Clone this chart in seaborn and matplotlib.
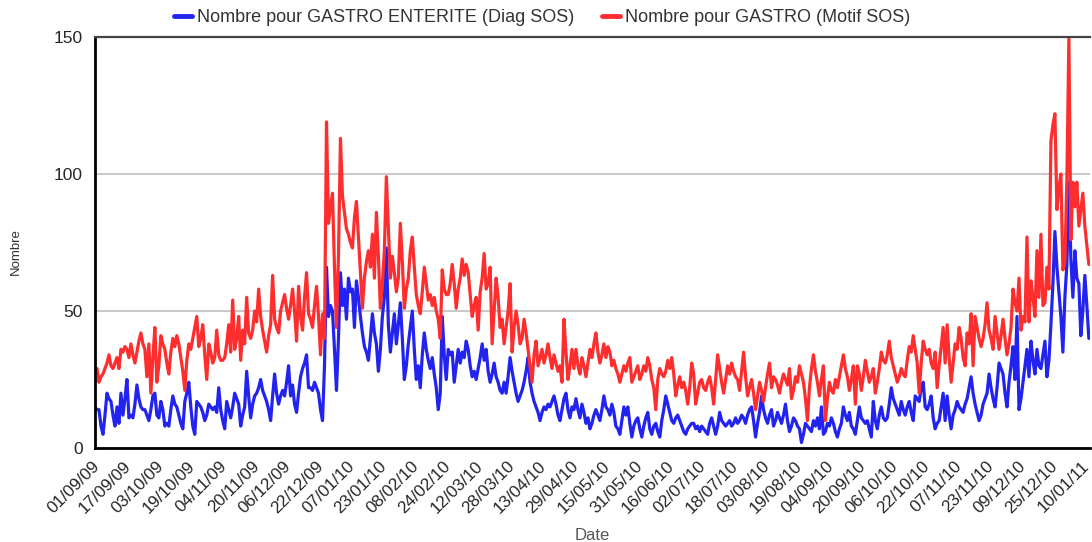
import matplotlib
matplotlib.use("Agg")
import matplotlib.pyplot as plt
import matplotlib.transforms as mtransforms
import pandas as pd
import seaborn as sns

START_DATE = "2009-09-01"
LAST_TICK = "2011-01-10"
TICK_STEP = "16D"

SERIES_NAMES = [
    "Nombre pour GASTRO ENTERITE (Diag SOS)",
    "Nombre pour GASTRO (Motif SOS)",
]
SERIES_COLORS = ["#2323f0", "#ff2e2e"]

# daily counts, blocks of 60 days starting 01/09/09 (last block 79 days)
DIAG_SEP_OCT_09 = [15, 14, 14, 8, 5, 12, 20, 18, 17, 12, 8, 15, 9, 20, 12, 18, 25, 11, 12, 11,
                   16, 23, 18, 15, 14, 14, 12, 10, 14, 19, 20, 12, 11, 17, 14, 8, 9, 8, 14, 19,
                   16, 15, 12, 9, 7, 17, 20, 24, 15, 8, 5, 17, 16, 15, 13, 10, 12, 16, 15, 14]
DIAG_NOV_DEC_09 = [15, 13, 22, 14, 10, 7, 17, 14, 11, 15, 20, 18, 16, 8, 12, 15, 28, 19, 11, 16,
                   19, 20, 22, 25, 21, 19, 17, 14, 10, 19, 27, 20, 16, 19, 21, 19, 24, 30, 19, 23,
                   16, 13, 20, 26, 29, 31, 34, 22, 22, 21, 24, 22, 20, 14, 10, 30, 66, 48, 52, 50]
DIAG_JAN_FEB_10 = [36, 21, 40, 64, 52, 58, 47, 62, 57, 58, 44, 61, 55, 48, 42, 37, 35, 32, 40, 49,
                   42, 38, 28, 36, 48, 55, 73, 45, 35, 42, 49, 38, 45, 53, 40, 25, 30, 38, 44, 50,
                   36, 25, 30, 22, 34, 42, 36, 32, 29, 33, 27, 22, 14, 20, 48, 34, 25, 36, 34, 35]
DIAG_MAR_APR_10 = [24, 30, 36, 31, 35, 33, 39, 36, 30, 26, 28, 25, 29, 33, 38, 32, 36, 28, 24, 27,
                   31, 26, 24, 21, 20, 24, 20, 26, 33, 28, 24, 20, 17, 19, 21, 24, 28, 33, 24, 20,
                   17, 15, 13, 10, 13, 15, 14, 16, 15, 17, 19, 16, 12, 10, 14, 18, 20, 14, 11, 15]
DIAG_MAY_JUN_10 = [14, 18, 14, 11, 16, 13, 9, 11, 7, 9, 12, 14, 12, 10, 14, 19, 15, 14, 12, 16,
                   13, 8, 7, 5, 10, 15, 12, 15, 9, 4, 8, 10, 11, 7, 4, 8, 11, 13, 7, 5,
                   8, 9, 6, 4, 10, 14, 19, 16, 13, 10, 9, 11, 12, 10, 8, 6, 5, 7, 8, 9]
DIAG_JUL_AUG_10 = [9, 7, 8, 6, 8, 7, 6, 5, 9, 11, 8, 5, 8, 13, 10, 9, 8, 9, 10, 8,
                   9, 11, 9, 10, 12, 11, 9, 12, 14, 15, 10, 4, 9, 13, 19, 14, 11, 9, 12, 14,
                   8, 10, 13, 11, 9, 12, 16, 10, 6, 8, 11, 10, 8, 7, 2, 5, 9, 8, 7, 6]
DIAG_SEP_OCT_10 = [10, 8, 11, 7, 15, 5, 6, 9, 8, 11, 9, 6, 4, 7, 9, 15, 12, 10, 13, 8,
                   7, 5, 10, 15, 11, 10, 9, 10, 7, 4, 17, 10, 7, 12, 15, 11, 10, 11, 16, 22,
                   18, 16, 14, 12, 17, 14, 12, 15, 17, 13, 10, 19, 18, 17, 22, 24, 15, 14, 16, 19]
DIAG_NOV_10_JAN_11 = [11, 7, 9, 10, 15, 20, 10, 19, 12, 7, 12, 14, 17, 15, 14, 13, 16, 18, 22, 26,
                      20, 16, 13, 10, 12, 16, 18, 20, 27, 22, 18, 15, 22, 31, 29, 27, 20, 15, 24, 30,
                      37, 25, 48, 14, 18, 24, 30, 36, 26, 39, 32, 27, 36, 30, 29, 34, 39, 26, 32, 45,
                      60, 79, 66, 57, 48, 35, 55, 67, 97, 69, 55, 72, 62, 60, 41, 50, 63, 52, 40]

MOTIF_SEP_OCT_09 = [28, 29, 24, 26, 27, 29, 31, 34, 30, 29, 31, 33, 29, 36, 35, 37, 36, 33, 38, 34,
                    31, 35, 39, 42, 38, 36, 26, 38, 20, 33, 44, 24, 30, 41, 38, 36, 31, 27, 35, 40,
                    37, 41, 38, 33, 28, 21, 32, 38, 36, 40, 44, 48, 37, 40, 45, 34, 25, 38, 35, 31]
MOTIF_NOV_DEC_09 = [33, 43, 34, 32, 32, 33, 38, 45, 35, 54, 36, 40, 48, 32, 43, 38, 55, 42, 40, 43,
                    50, 46, 58, 48, 43, 39, 35, 41, 45, 63, 47, 44, 42, 50, 53, 56, 51, 47, 52, 58,
                    50, 39, 59, 48, 43, 55, 64, 49, 47, 44, 52, 59, 48, 34, 49, 40, 119, 82, 88, 93]
MOTIF_JAN_FEB_10 = [66, 44, 70, 113, 92, 86, 80, 78, 75, 73, 84, 90, 77, 64, 51, 62, 68, 72, 66, 78,
                    62, 86, 70, 51, 60, 72, 99, 80, 62, 70, 64, 57, 62, 82, 68, 51, 58, 62, 72, 77,
                    66, 56, 52, 49, 57, 66, 60, 54, 56, 52, 55, 50, 47, 40, 65, 58, 56, 56, 60, 67]
MOTIF_MAR_APR_10 = [60, 51, 58, 62, 69, 63, 67, 64, 56, 48, 52, 55, 43, 57, 62, 71, 58, 60, 66, 38,
                    50, 62, 55, 44, 47, 38, 44, 50, 60, 35, 44, 50, 45, 38, 40, 47, 42, 36, 30, 24,
                    34, 39, 30, 33, 36, 31, 34, 38, 33, 29, 34, 31, 28, 30, 24, 47, 35, 25, 30, 36]
MOTIF_MAY_JUN_10 = [29, 36, 30, 27, 33, 30, 26, 31, 36, 33, 38, 42, 35, 31, 34, 38, 33, 37, 35, 30,
                    32, 29, 27, 24, 27, 30, 28, 31, 33, 24, 26, 28, 30, 25, 27, 30, 28, 33, 30, 25,
                    22, 14, 25, 29, 27, 26, 28, 32, 29, 33, 27, 19, 23, 26, 22, 24, 21, 16, 22, 31]
MOTIF_JUL_AUG_10 = [27, 16, 20, 24, 25, 22, 21, 24, 26, 22, 16, 25, 34, 29, 24, 20, 25, 30, 27, 31,
                    28, 26, 25, 21, 28, 35, 26, 19, 22, 25, 20, 14, 19, 24, 21, 17, 22, 27, 31, 22,
                    26, 25, 23, 20, 24, 27, 25, 23, 29, 18, 21, 26, 24, 30, 27, 24, 18, 10, 22, 29]
MOTIF_SEP_OCT_10 = [34, 28, 24, 19, 25, 30, 10, 18, 24, 21, 20, 25, 22, 26, 30, 34, 29, 26, 21, 25,
                    30, 16, 30, 27, 21, 26, 32, 28, 24, 26, 29, 20, 24, 29, 35, 32, 31, 34, 39, 33,
                    30, 27, 24, 26, 29, 27, 26, 32, 37, 35, 41, 36, 31, 20, 31, 39, 36, 34, 36, 31]
MOTIF_NOV_10_JAN_11 = [29, 35, 22, 30, 37, 44, 31, 45, 33, 24, 31, 38, 36, 44, 40, 33, 30, 42, 38, 49,
                       30, 48, 44, 40, 37, 40, 45, 53, 43, 40, 36, 48, 42, 36, 41, 47, 40, 34, 38, 44,
                       58, 53, 50, 62, 43, 48, 46, 77, 46, 61, 55, 48, 72, 55, 78, 52, 53, 66, 58, 112,
                       118, 122, 87, 95, 100, 65, 68, 98, 150, 76, 97, 88, 97, 81, 87, 93, 81, 74, 67]

W, H = 1092, 542


def build_frame():
    diag = (DIAG_SEP_OCT_09 + DIAG_NOV_DEC_09 + DIAG_JAN_FEB_10 + DIAG_MAR_APR_10
            + DIAG_MAY_JUN_10 + DIAG_JUL_AUG_10 + DIAG_SEP_OCT_10 + DIAG_NOV_10_JAN_11)
    motif = (MOTIF_SEP_OCT_09 + MOTIF_NOV_DEC_09 + MOTIF_JAN_FEB_10 + MOTIF_MAR_APR_10
             + MOTIF_MAY_JUN_10 + MOTIF_JUL_AUG_10 + MOTIF_SEP_OCT_10 + MOTIF_NOV_10_JAN_11)
    n = min(len(diag), len(motif))
    dates = pd.date_range(START_DATE, periods=n, freq="D")
    wide = pd.DataFrame({"Date": dates, SERIES_NAMES[0]: diag[:n], SERIES_NAMES[1]: motif[:n]})
    return wide.melt(id_vars="Date", var_name="serie", value_name="Nombre")


def style_axes(fig, ax, dates):
    ax.set_ylim(0, 150)
    ax.set_yticks([0, 50, 100, 150])
    ax.yaxis.grid(True, color="#c8c8c8", linewidth=1.4)
    ax.xaxis.grid(False)
    ax.set_axisbelow(True)

    ticks = pd.date_range(START_DATE, LAST_TICK, freq=TICK_STEP)
    ax.set_xticks(ticks)
    ax.set_xticklabels([d.strftime("%d/%m/%y") for d in ticks], rotation=45,
                       ha="right", va="center", rotation_mode="anchor")
    ax.set_xlim(dates.min(), dates.max() + pd.Timedelta(hours=14))

    ax.tick_params(axis="x", direction="inout", length=9, width=1.5, color="black",
                   labelsize=12.3, pad=7)
    ax.tick_params(axis="y", length=0, labelsize=12.5, pad=9)

    # labels sit a little right of their tick in the original
    # (done after tick_params, which resets label transforms)
    shift = mtransforms.ScaledTranslation(2 / 100, 0, fig.dpi_scale_trans)
    for tick in ax.xaxis.get_major_ticks():
        tick.label1.set_transform(tick.label1.get_transform() + shift)

    for side in ("left", "bottom"):
        ax.spines[side].set_color("black")
        ax.spines[side].set_linewidth(2)
    ax.spines["top"].set_color("#444444")
    ax.spines["top"].set_linewidth(1.6)
    ax.spines["right"].set_visible(False)

    ax.set_xlabel("")
    ax.set_ylabel("")
    fig.text(592 / W, 1 - 535 / H, "Date", fontsize=12, color="#555555",
             ha="center", va="center")
    fig.text(16 / W, 1 - 252 / H, "Nombre", fontsize=9.5, color="#333333",
             ha="center", va="center", rotation=90)


def main():
    sns.set_theme(style="white")
    plt.rcParams["font.family"] = ["Liberation Sans", "DejaVu Sans"]

    df = build_frame()
    fig = plt.figure(figsize=(W / 100, H / 100), dpi=100)
    ax = fig.add_axes([95 / W, 1 - 448 / H, (1090 - 95) / W, (448 - 37) / H])

    sns.lineplot(data=df, x="Date", y="Nombre", hue="serie", hue_order=SERIES_NAMES,
                 palette=SERIES_COLORS, linewidth=2.3, ax=ax)
    style_axes(fig, ax, df["Date"])

    sns.move_legend(ax, "center", bbox_to_anchor=(542 / W, 1 - 18 / H),
                    bbox_transform=fig.transFigure, ncol=2, title=None, frameon=False,
                    fontsize=13, handlelength=1.0, handletextpad=0.3, columnspacing=1.5)
    for txt in ax.get_legend().get_texts():
        txt.set_color("#333333")
    for line in ax.get_legend().get_lines():
        line.set_linewidth(3.5)

    fig.savefig("out.png", dpi=100)
    plt.close(fig)


if __name__ == "__main__":
    main()
